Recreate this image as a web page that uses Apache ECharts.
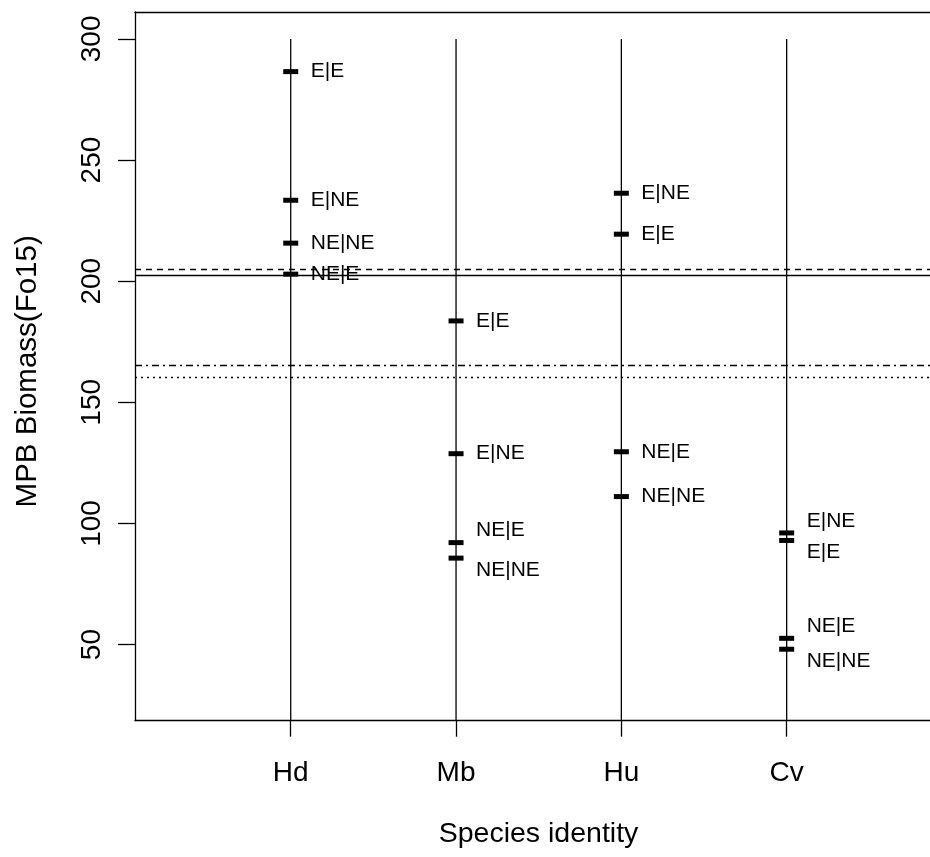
<!DOCTYPE html>
<html>
<head>
<meta charset="utf-8">
<script src="https://cdn.jsdelivr.net/npm/echarts@6/dist/echarts.min.js"></script>
<style>
  html, body { margin: 0; padding: 0; background: #fff; }
  #chart { width: 930px; height: 857px; }
</style>
</head>
<body>
<div id="chart"></div>
<script>
// Species along the x axis (positions 1..4)
const species = ['Hd', 'Mb', 'Hu', 'Cv'];
// Treatment combinations, one value per species
const treatments = ['E|E', 'E|NE', 'NE|E', 'NE|NE'];
const valEE   = [286.5, 183.6, 219.4, 93.0];
const valENE  = [233.4, 128.8, 236.3, 96.1];
const valNEE  = [202.9, 92.1, 129.6, 52.6];
const valNENE = [215.7, 85.7, 111.1, 48.1];
// Horizontal reference levels
const refSolid = 202.6;
const refDashed = 204.9;
const refDashDot = 165.4;
const refDotted = 160.5;
// Y tick values and stem height
const yTicks = [50, 100, 150, 200, 250, 300];
const stemTop = 300;

const FONT = 'Liberation Sans, Arial, Helvetica, sans-serif';
const seriesVals = [valEE, valENE, valNEE, valNENE];
const frameLine = { color: '#000', width: 1.3 };

// Build point list, spreading labels of near-coincident values apart
const points = [];
species.forEach((sp, i) => {
  const items = treatments.map((t, k) => ({ t, v: seriesVals[k][i] }));
  items.sort((a, b) => b.v - a.v);
  const offs = items.map(() => 0);
  for (let j = 0; j < items.length - 1; j++) {
    if (items[j].v - items[j + 1].v < 8) { offs[j] = -12; offs[j + 1] = 12; }
  }
  items.forEach((it, j) => {
    points.push({
      name: it.t,
      value: [i + 1, it.v],
      label: { offset: [0, offs[j]] }
    });
  });
});

const chart = echarts.init(document.getElementById('chart'), null, { renderer: 'canvas' });

chart.setOption({
  animation: false,
  backgroundColor: '#fff',
  textStyle: { fontFamily: FONT, color: '#000' },
  grid: { left: 135, top: 12, width: 795, height: 708.7, show: false },
  xAxis: [
    {
      type: 'value', min: 0.058, max: 4.867,
      splitLine: { show: false },
      axisLine: { show: true, onZero: false, lineStyle: frameLine },
      axisTick: { show: true, length: 16, lineStyle: frameLine, customValues: [1, 2, 3, 4] },
      axisLabel: {
        customValues: [1, 2, 3, 4],
        formatter: v => species[Math.round(v) - 1] || '',
        fontSize: 28, lineHeight: 28, color: '#000', fontFamily: FONT, margin: 39
      },
      name: 'Species identity', nameLocation: 'middle', nameGap: 99,
      nameTextStyle: { fontSize: 28.5, lineHeight: 28, color: '#000', fontFamily: FONT, padding: [0, 0, 0, 12] }
    },
    {
      // top edge of the plot frame
      type: 'value', position: 'top', min: 0.058, max: 4.867,
      splitLine: { show: false },
      axisLine: { show: true, onZero: false, lineStyle: frameLine },
      axisTick: { show: false },
      axisLabel: { show: false }
    }
  ],
  yAxis: {
    type: 'value', min: 18.6, max: 311.1,
    splitLine: { show: false },
    axisLine: { show: true, onZero: false, lineStyle: frameLine },
    axisTick: { show: true, length: 17, lineStyle: frameLine, customValues: yTicks },
    axisLabel: {
      customValues: yTicks, rotate: 90,
      fontSize: 28, lineHeight: 28, color: '#000', fontFamily: FONT, margin: 29
    },
    name: 'MPB Biomass(Fo15)', nameLocation: 'middle', nameGap: 93, nameRotate: 90,
    nameTextStyle: { fontSize: 29.5, lineHeight: 29, color: '#000', fontFamily: FONT, padding: [0, 10, 0, 0] }
  },
  series: [
    {
      // vertical stems for each species
      type: 'custom',
      silent: true,
      data: species.map((s, i) => [i + 1, stemTop]),
      renderItem: (params, api) => {
        const top = api.coord([api.value(0), api.value(1)]);
        const cs = params.coordSys;
        return {
          type: 'line',
          shape: { x1: top[0], y1: top[1], x2: top[0], y2: cs.y + cs.height },
          style: { stroke: '#000', lineWidth: 1.3 }
        };
      },
      markLine: {
        silent: true,
        symbol: 'none',
        label: { show: false },
        data: [
          { yAxis: refSolid, lineStyle: { type: 'solid', color: '#000', width: 1.3 } },
          { yAxis: refDashed, lineStyle: { type: [6, 5], color: '#000', width: 1.3 } },
          { yAxis: refDashDot, lineStyle: { type: [7, 4, 2, 4], color: '#000', width: 1.3 } },
          { yAxis: refDotted, lineStyle: { type: [2, 4], color: '#000', width: 1.3 } }
        ]
      }
    },
    {
      type: 'scatter',
      symbol: 'rect',
      symbolSize: [15, 5],
      itemStyle: { color: '#000', opacity: 1 },
      data: points,
      z: 5,
      label: {
        show: true,
        position: 'right',
        distance: 12.5,
        formatter: p => p.name,
        fontSize: 21,
        color: '#000',
        opacity: 1,
        fontFamily: FONT
      }
    }
  ]
});
</script>
</body>
</html>
